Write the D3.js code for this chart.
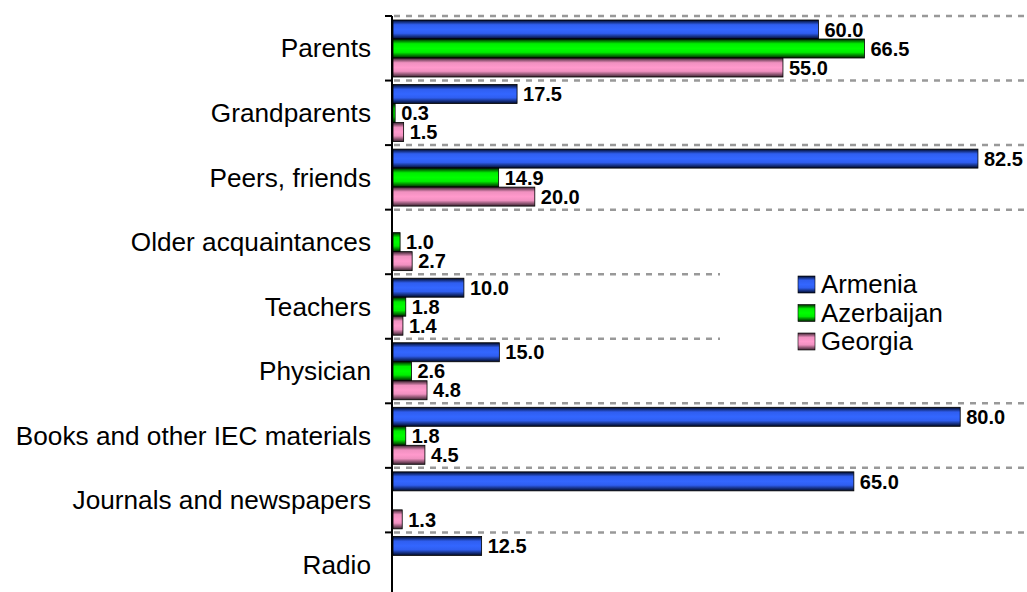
<!DOCTYPE html>
<html><head><meta charset="utf-8">
<script src="https://cdn.jsdelivr.net/npm/d3@7"></script>
<style>
html,body{margin:0;padding:0;background:#fff;}
svg{display:block;font-family:"Liberation Sans",Arial,sans-serif;}
</style></head>
<body>
<svg id="chart" width="1027" height="592"></svg>
<script>
const categories = ["Parents","Grandparents","Peers, friends","Older acquaintances","Teachers","Physician","Books and other IEC materials","Journals and newspapers","Radio"];
const seriesNames = ["Armenia","Azerbaijan","Georgia"];
const armenia    = [60.0, 17.5, 82.5, null, 10.0, 15.0, 80.0, 65.0, 12.5];
const azerbaijan = [66.5, 0.3, 14.9, 1.0, 1.8, 2.6, 1.8, null, null];
const georgia    = [55.0, 1.5, 20.0, 2.7, 1.4, 4.8, 4.5, 1.3, null];
const seriesValues = [armenia, azerbaijan, georgia];

const svg = d3.select("#chart");
const W = 1027, H = 592;
const axisX = 392;
const bandH = 64.55;
const plotTop = 16;

const x = d3.scaleLinear().domain([0, 90]).range([axisX + 1, axisX + 1 + 90 * 7.09]);
const y = d3.scaleBand().domain(categories).range([plotTop, plotTop + bandH * categories.length]).paddingInner(0).paddingOuter(0);
const ySub = d3.scaleBand().domain(seriesNames).range([4, 61]).padding(0);

const defs = svg.append("defs");
const grads = [
  {id:"gA", edge:"#000a26", mid:"#3366ff", mid2:"#2f5ef0"},
  {id:"gB", edge:"#002200", mid:"#00ff00", mid2:"#00ee00"},
  {id:"gC", edge:"#3a2330", mid:"#ff99cc", mid2:"#f090c0"}
];
grads.forEach(g => {
  const lg = defs.append("linearGradient").attr("id", g.id).attr("x1",0).attr("y1",0).attr("x2",0).attr("y2",1);
  lg.append("stop").attr("offset","0%").attr("stop-color", g.edge);
  lg.append("stop").attr("offset","25%").attr("stop-color", g.mid2);
  lg.append("stop").attr("offset","50%").attr("stop-color", g.mid);
  lg.append("stop").attr("offset","70%").attr("stop-color", g.mid2);
  lg.append("stop").attr("offset","100%").attr("stop-color", g.edge);
});

// gridlines at band boundaries
const bounds = categories.map(c => y(c));
svg.append("g").selectAll("line").data(bounds).join("line")
  .attr("x1", axisX + 2).attr("x2", W)
  .attr("y1", d => d).attr("y2", d => d)
  .attr("stroke", "#999").attr("stroke-width", 2.5).attr("stroke-dasharray", "6,6");

// legend backdrop (covers gridlines)
svg.append("rect").attr("x", 720).attr("y", 258).attr("width", W - 720).attr("height", 106).attr("fill", "#fff");

// bars
const gBars = svg.append("g");
seriesValues.forEach((vals, si) => {
  vals.forEach((v, ci) => {
    if (v === null) return;
    const yy = y(categories[ci]) + ySub(seriesNames[si]);
    gBars.append("rect")
      .attr("x", x(0)).attr("y", yy)
      .attr("width", Math.max(x(v) - x(0), 1.5)).attr("height", ySub.bandwidth())
      .attr("fill", `url(#${grads[si].id})`)
      .attr("stroke", "#000").attr("stroke-width", 0.8);
  });
});

// value labels
const gLab = svg.append("g");
seriesValues.forEach((vals, si) => {
  vals.forEach((v, ci) => {
    if (v === null) return;
    const cy = y(categories[ci]) + ySub(seriesNames[si]) + ySub.bandwidth() / 2;
    const g = gLab.append("g");
    const t = g.append("text")
      .attr("x", x(v) + 6).attr("y", cy).attr("dy", "0.36em")
      .attr("font-size", 20).attr("font-weight", "bold").attr("fill", "#000")
      .text(v.toFixed(1));
    const bb = t.node().getBBox();
    g.insert("rect", "text").attr("x", bb.x - 2).attr("y", cy - 8).attr("width", bb.width + 4).attr("height", 16).attr("fill", "#fff");
  });
});

// axis line + boundary ticks
svg.append("line").attr("x1", axisX).attr("x2", axisX).attr("y1", plotTop).attr("y2", H)
  .attr("stroke", "#000").attr("stroke-width", 2);
svg.append("g").selectAll("line").data(bounds).join("line")
  .attr("x1", axisX - 7).attr("x2", axisX).attr("y1", d => d).attr("y2", d => d)
  .attr("stroke", "#000").attr("stroke-width", 2);

// category labels
svg.append("g").selectAll("text").data(categories).join("text")
  .attr("x", 371).attr("y", d => y(d) + y.bandwidth() / 2).attr("dy", "0.35em")
  .attr("text-anchor", "end").attr("font-size", 26.2).attr("fill", "#000")
  .text(d => d);

// legend
const lg = svg.append("g");
seriesNames.forEach((n, i) => {
  const ly = 276 + i * 28.5;
  lg.append("rect").attr("x", 798).attr("y", ly).attr("width", 17).attr("height", 17)
    .attr("fill", `url(#${grads[i].id})`).attr("stroke", "#000").attr("stroke-width", 0.6);
  lg.append("text").attr("x", 821).attr("y", ly + 17).attr("font-size", 25.8).attr("fill", "#000").text(n);
});
</script>
</body></html>
